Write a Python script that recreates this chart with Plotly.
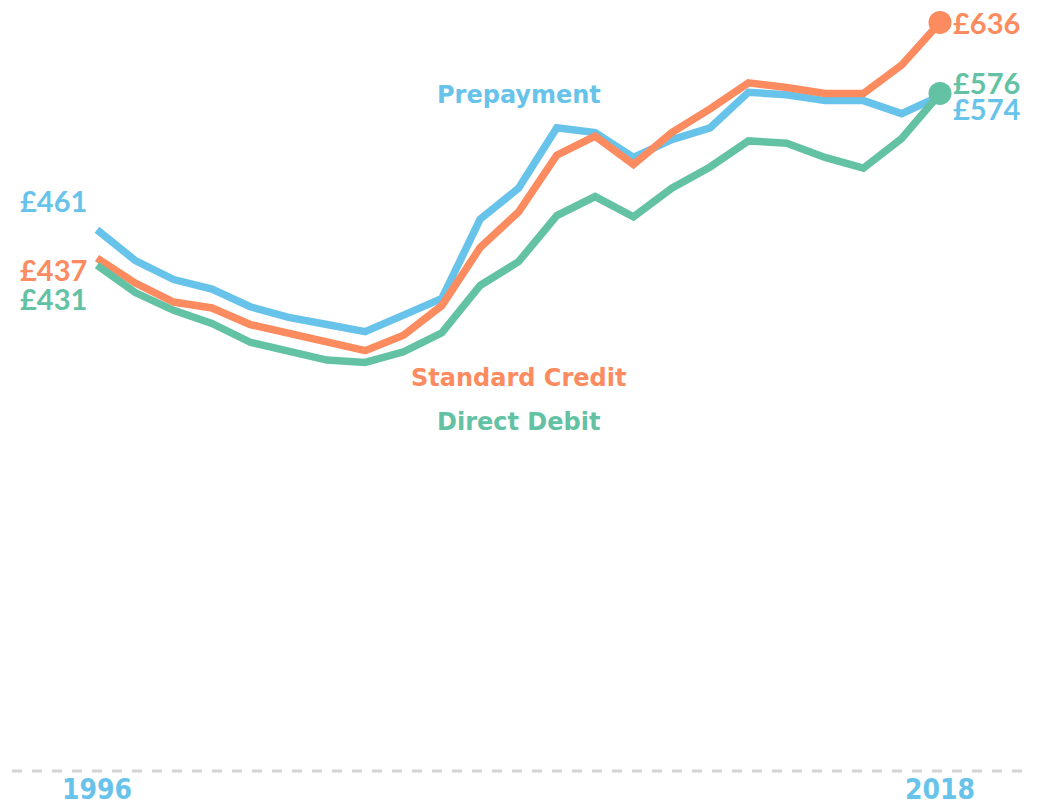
import plotly.graph_objects as go

years = list(range(1996, 2019))

prepayment = [461, 435, 419, 411, 396, 387, 381, 375, 389, 403, 470, 496, 547,
              543, 522, 537, 547, 577, 575, 570, 570, 559, 574]
standard_credit = [437, 416, 400, 395, 381, 374, 366, 359, 372, 397, 446, 476, 524,
                   540, 516, 543, 563, 585, 581, 576, 576, 600, 636]
direct_debit = [431, 408, 393, 382, 366, 358, 351, 349, 358, 374, 414, 434, 473,
                489, 472, 496, 514, 536, 534, 522, 513, 538, 576]

BLUE = "#68c3ea"
ORANGE = "#fc8b60"
GREEN = "#64c2a4"
VALUE_FONT = "Lato"
NAME_FONT = "DejaVu Sans"

fig = go.Figure()

series = [
    ("Prepayment", prepayment, BLUE, False),
    ("Standard Credit", standard_credit, ORANGE, True),
    ("Direct Debit", direct_debit, GREEN, True),
]

for name, vals, color, end_dot in series:
    fig.add_trace(go.Scatter(
        x=years, y=vals, mode="lines", name=name,
        line=dict(color=color, width=7.5), showlegend=False,
        hoverinfo="skip",
    ))
    if end_dot:
        fig.add_trace(go.Scatter(
            x=[years[-1]], y=[vals[-1]], mode="markers",
            marker=dict(color=color, size=23), showlegend=False,
            hoverinfo="skip",
        ))

annotations = []
# start values on the left
for vals, color, yshift in [(prepayment, BLUE, 29), (standard_credit, ORANGE, -11),
                            (direct_debit, GREEN, -33)]:
    annotations.append(dict(
        x=years[0], y=vals[0], xref="x", yref="y", text=f"£{vals[0]}",
        showarrow=False, xanchor="right", xshift=-8, yshift=yshift,
        font=dict(family=VALUE_FONT, size=29, color=color, weight="bold"),
    ))
# end values on the right
for vals, color, yshift in [(standard_credit, ORANGE, 0), (direct_debit, GREEN, 11),
                            (prepayment, BLUE, -13)]:
    annotations.append(dict(
        x=years[-1], y=vals[-1], xref="x", yref="y", text=f"£{vals[-1]}",
        showarrow=False, xanchor="left", xshift=11, yshift=yshift,
        font=dict(family=VALUE_FONT, size=29, color=color, weight="bold"),
    ))
# series names
for text, color, year, val in [("Prepayment", BLUE, 2007.0, 575),
                               ("Standard Credit", ORANGE, 2007.0, 336),
                               ("Direct Debit", GREEN, 2007.0, 299)]:
    annotations.append(dict(
        x=year, y=val, xref="x", yref="y", text=text, showarrow=False,
        xanchor="center", yanchor="middle",
        font=dict(family=NAME_FONT, size=24, color=color, weight="bold"),
    ))

fig.update_layout(
    width=1037, height=806,
    margin=dict(l=0, r=0, t=0, b=36),
    paper_bgcolor="white", plot_bgcolor="white",
    annotations=annotations,
    shapes=[dict(
        type="line", xref="paper", yref="paper", x0=0.0116, x1=0.994,
        y0=-0.0013, y1=-0.0013, layer="below",
        line=dict(color="#d4d4d4", width=3, dash="10px,10px"),
    )],
    xaxis=dict(
        range=[1993.469, 2020.531], showgrid=False, zeroline=False,
        showline=False, ticks="", tickmode="array", tickvals=[1996, 2018],
        ticktext=["1996", "2018"], automargin=False,
        tickfont=dict(family="DejaVu Sans Condensed, DejaVu Sans", size=28,
                      color=BLUE, weight="bold"),
    ),
    yaxis=dict(
        range=[5.06, 654.9], visible=False, showgrid=False, zeroline=False,
    ),
)

fig.write_html("out.html")
